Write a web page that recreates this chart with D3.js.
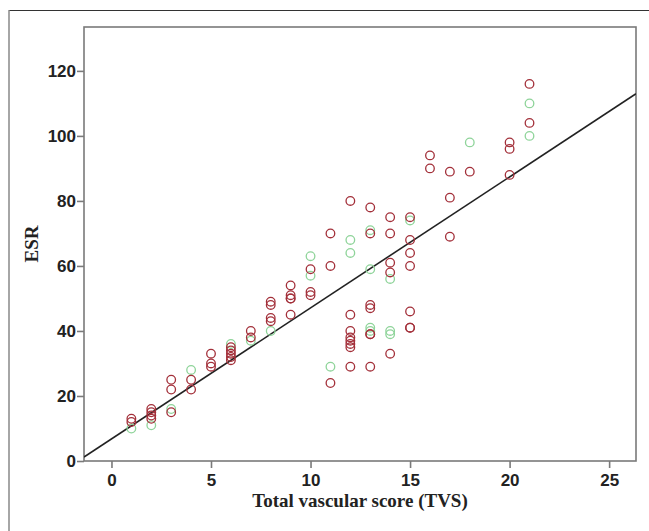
<!DOCTYPE html>
<html>
<head>
<meta charset="utf-8">
<script src="https://cdn.jsdelivr.net/npm/d3@7"></script>
<style>
  body { margin: 0; background: #fff; }
  svg { display: block; }
</style>
</head>
<body>
<div id="chart"></div>
<script>
// ESR against total vascular score, two groups of patients
const redTVS = [1, 1, 2, 2, 2, 2, 3, 3, 3, 4, 4, 5, 5, 5, 6, 6, 6, 6, 6, 7, 7,
  8, 8, 8, 8, 9, 9, 9, 9, 9, 10, 10, 10, 11, 11, 11,
  12, 12, 12, 12, 12, 12, 12, 12, 13, 13, 13, 13, 13, 13, 13,
  14, 14, 14, 14, 14, 15, 15, 15, 15, 15, 15, 15,
  16, 16, 17, 17, 17, 18, 20, 20, 20, 21, 21];
const redESR = [13, 12, 16, 15, 14, 13, 25, 22, 15, 25, 22, 33, 30, 29, 35, 34, 33, 32, 31, 40, 38,
  49, 48, 44, 43, 54, 51, 50, 50, 45, 59, 52, 51, 70, 60, 24,
  80, 45, 40, 38, 37, 36, 35, 29, 78, 70, 48, 47, 39, 39, 29,
  75, 70, 61, 58, 33, 75, 68, 64, 60, 46, 41, 41,
  94, 90, 89, 81, 69, 89, 98, 96, 88, 116, 104];

const greenTVS = [1, 2, 3, 4, 6, 7, 8, 10, 10, 11, 12, 12, 13, 13, 13, 13, 14, 14, 14, 15, 18, 21, 21];
const greenESR = [10, 11, 16, 28, 36, 37, 40, 63, 57, 29, 68, 64, 71, 59, 41, 40, 56, 40, 39, 74, 98, 110, 100];

// fit line
const fitIntercept = 6.8;
const fitSlope = 4.03;

const xTicks = [0, 5, 10, 15, 20, 25];
const yTicks = [0, 20, 40, 60, 80, 100, 120];

const width = 649, height = 531;
const margin = { top: 27, right: 13, bottom: 70, left: 84 };

const svg = d3.select('#chart')
  .append('svg')
  .attr('width', width)
  .attr('height', height);

// outer figure border (only top and left show)
svg.append('line')
  .attr('x1', 9).attr('x2', width).attr('y1', 10.5).attr('y2', 10.5)
  .style('stroke', '#333').style('stroke-width', 1.2);
svg.append('line')
  .attr('x1', 9).attr('x2', 9).attr('y1', 10).attr('y2', height)
  .style('stroke', '#888').style('stroke-width', 1.5);

const x = d3.scaleLinear()
  .domain([-1.38, 26.35])
  .range([margin.left, width - margin.right]);

const y = d3.scaleLinear()
  .domain([0, 133.5])
  .range([height - margin.bottom, margin.top]);

const g = svg.append('g');

// frame
g.append('rect')
  .attr('x', x.range()[0])
  .attr('y', y.range()[1])
  .attr('width', x.range()[1] - x.range()[0])
  .attr('height', y.range()[0] - y.range()[1])
  .style('fill', 'none')
  .style('stroke', '#7a7a7a')
  .style('stroke-width', 1.6);

const xAxis = g.append('g')
  .attr('transform', `translate(0, ${y.range()[0]})`)
  .call(d3.axisBottom(x).tickValues(xTicks).tickSize(7).tickPadding(6));

const yAxis = g.append('g')
  .attr('transform', `translate(${x.range()[0]}, 0)`)
  .call(d3.axisLeft(y).tickValues(yTicks).tickSize(7).tickPadding(1));

[xAxis, yAxis].forEach(ax => {
  ax.select('.domain').remove();
  ax.selectAll('line').style('stroke', '#7a7a7a').style('stroke-width', 1.6);
  ax.selectAll('text')
    .style('font-family', 'Liberation Sans, Arial, sans-serif')
    .style('font-size', '17px')
    .style('font-weight', 'bold')
    .style('fill', '#222');
});

// regression line
svg.append('clipPath').attr('id', 'plotclip')
  .append('rect')
  .attr('x', x.range()[0]).attr('y', y.range()[1])
  .attr('width', x.range()[1] - x.range()[0])
  .attr('height', y.range()[0] - y.range()[1]);

const dom = x.domain();
g.append('line')
  .attr('clip-path', 'url(#plotclip)')
  .attr('x1', x(dom[0])).attr('y1', y(fitIntercept + fitSlope * dom[0]))
  .attr('x2', x(dom[1])).attr('y2', y(fitIntercept + fitSlope * dom[1]))
  .style('stroke', '#222')
  .style('stroke-width', 1.6);

function drawPoints(xs, ys, colour) {
  g.append('g')
    .selectAll('circle')
    .data(xs.map((v, i) => [v, ys[i]]))
    .enter()
    .append('circle')
    .attr('cx', d => x(d[0]))
    .attr('cy', d => y(d[1]))
    .attr('r', 4.3)
    .style('fill', 'none')
    .style('stroke', colour)
    .style('stroke-width', 1.3);
}

drawPoints(greenTVS, greenESR, '#8fd49a');
drawPoints(redTVS, redESR, '#a3303a');

// axis titles
svg.append('text')
  .attr('x', (x.range()[0] + x.range()[1]) / 2)
  .attr('y', 507)
  .attr('text-anchor', 'middle')
  .style('font-family', 'Liberation Serif, Times New Roman, serif')
  .style('font-size', '19px')
  .style('font-weight', 'bold')
  .style('fill', '#222')
  .text('Total vascular score (TVS)');

svg.append('text')
  .attr('transform', `translate(38, ${(y.range()[0] + y.range()[1]) / 2}) rotate(-90)`)
  .attr('text-anchor', 'middle')
  .style('font-family', 'Liberation Serif, Times New Roman, serif')
  .style('font-size', '19px')
  .style('font-weight', 'bold')
  .style('fill', '#222')
  .text('ESR');
</script>
</body>
</html>
